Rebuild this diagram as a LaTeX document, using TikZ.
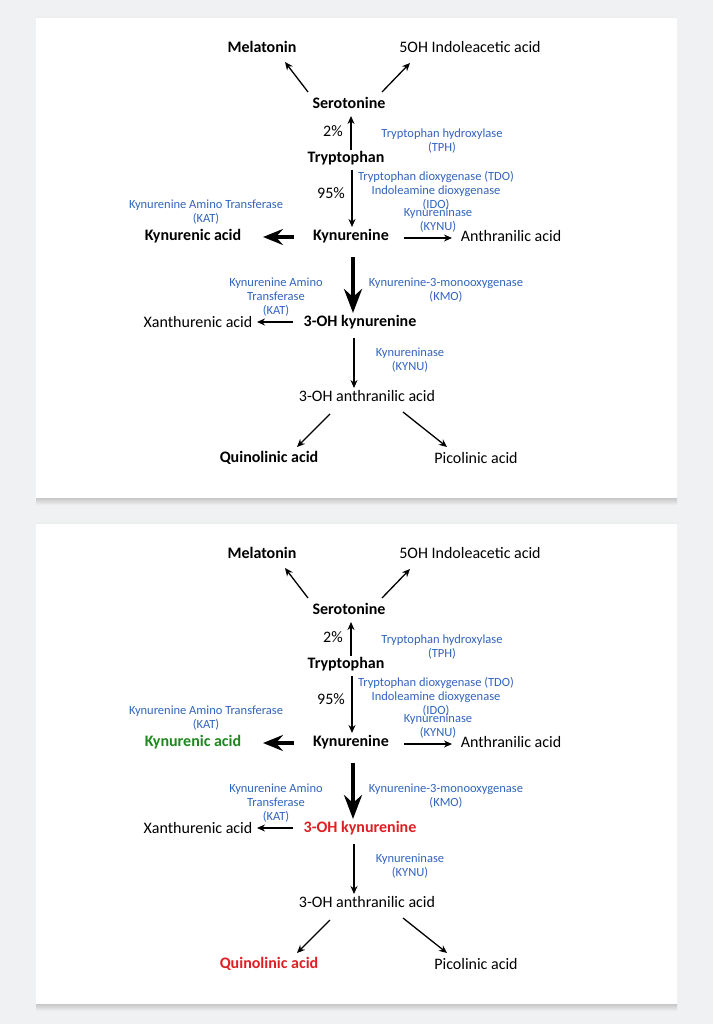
\documentclass[tikz,border=0pt]{standalone}
\usepackage{fontspec}
\setmainfont{Carlito}
\usetikzlibrary{arrows.meta,calc}
\definecolor{bg}{HTML}{F0F1F3}
\definecolor{enz}{RGB}{50,100,190}
\definecolor{kgreen}{RGB}{30,135,30}
\definecolor{kred}{RGB}{225,30,35}
\tikzset{
 met/.style={font=\fontsize{16}{18}\selectfont, inner sep=0pt, anchor=center},
 metb/.style={inner sep=0pt, anchor=center, font=\fontsize{16}{18}\selectfont\bfseries},
 enzy/.style={font=\fontsize{12.5}{14.2}\selectfont, text=enz, align=center, inner sep=0pt},
 arr/.style={-{Stealth[length=8pt,width=7pt]}, line width=1.3pt},
 bigarrh/.style={-{Stealth[length=20pt,width=16pt,inset=7pt]}, line width=4pt},
 bigarrv/.style={-{Stealth[length=24pt,width=18pt,inset=8pt]}, line width=4pt},
 panel/.style={fill=white},
}
\newcommand\pathway[4]{%
 \node[metb] (#1mel) at (262,47) {Melatonin};
 \node[met] (#1oh5) at (470,47) {5OH Indoleacetic acid};
 \node[metb] (#1sero) at (349,103) {Serotonine};
 \node[met] (#1p2) at (333,131) {2\%};
 \node[enzy] (#1tph) at (442,141) {Tryptophan hydroxylase\\(TPH)};
 \node[metb] (#1tryp) at (346,158) {Tryptophan};
 \node[met] (#1p95) at (331,193) {95\%};
 \node[enzy] (#1tdo) at (436,191) {Tryptophan dioxygenase (TDO)\\Indoleamine dioxygenase\\(IDO)};
 \node[enzy] (#1kat) at (206,212) {Kynurenine Amino Transferase\\(KAT)};
 \node[enzy] (#1kynu) at (438,220) {Kynureninase\\(KYNU)};
 \node[metb, text=#2] (#1kyna) at (193,236) {Kynurenic acid};
 \node[metb] (#1kyn) at (351,236) {Kynurenine};
 \node[met] (#1anth) at (511,236) {Anthranilic acid};
 \node[enzy] (#1katb) at (276,297) {Kynurenine Amino\\Transferase\\(KAT)};
 \node[enzy] (#1kmo) at (446,290) {Kynurenine-3-monooxygenase\\(KMO)};
 \node[met] (#1xan) at (198,322) {Xanthurenic acid};
 \node[metb, text=#3] (#1ohk) at (360,322) {3-OH kynurenine};
 \node[enzy] (#1kynub) at (410,360) {Kynureninase\\(KYNU)};
 \node[met] (#1oha) at (367,396) {3-OH anthranilic acid};
 \node[metb, text=#4] (#1quin) at (269,458) {Quinolinic acid};
 \node[met] (#1pic) at (476,458) {Picolinic acid};
 \draw[arr] ($(#1sero)+(-41,-11)$) -- ($(#1mel)+(23,15)$);
 \draw[arr] ($(#1sero)+(33,-11)$) -- ($(#1oh5)+(-60,16)$);
 \draw[arr] ($(#1tryp)+(5,-8)$) -- ($(#1sero)+(2,13)$);
 \draw[arr] ($(#1tryp)+(6,12)$) -- ($(#1kyn)+(1,-9)$);
 \draw[bigarrh] ($(#1kyn)+(-57,1)$) -- ($(#1kyna)+(70,1)$);
 \draw[arr] ($(#1kyn)+(53,2)$) -- ($(#1anth)+(-59,2)$);
 \draw[bigarrv] ($(#1kyn)+(2,21)$) -- ($(#1ohk)+(-7,-9)$);
 \draw[arr] ($(#1ohk)+(-67,0)$) -- ($(#1xan)+(59,0)$);
 \draw[arr] ($(#1ohk)+(-6,16)$) -- ($(#1oha)+(-13,-8)$);
 \draw[arr] ($(#1oha)+(-37,18)$) -- ($(#1quin)+(28,-11)$);
 \draw[arr] ($(#1oha)+(36,16)$) -- ($(#1pic)+(-29,-11)$);
}
\begin{document}
\begin{tikzpicture}[x=1pt,y=-1pt]
 \useasboundingbox (0,0) rectangle (713,1024);
 \fill[bg] (0,0) rectangle (713,1024);
 \fill[top color=black!22, bottom color=bg] (36,498) rectangle (677,505);
 \fill[top color=black!22, bottom color=bg] (36,1004) rectangle (677,1011);
 \fill[top color=bg, bottom color=black!8] (36,15) rectangle (677,18);
 \fill[top color=bg, bottom color=black!8] (36,521) rectangle (677,524);
 \fill[panel] (36,18) rectangle (677,498);
 \fill[panel] (36,524) rectangle (677,1004);
 \pathway{a}{black}{black}{black}
 \begin{scope}[yshift=-506pt]
  \pathway{b}{kgreen}{kred}{kred}
 \end{scope}
\end{tikzpicture}
\end{document}
